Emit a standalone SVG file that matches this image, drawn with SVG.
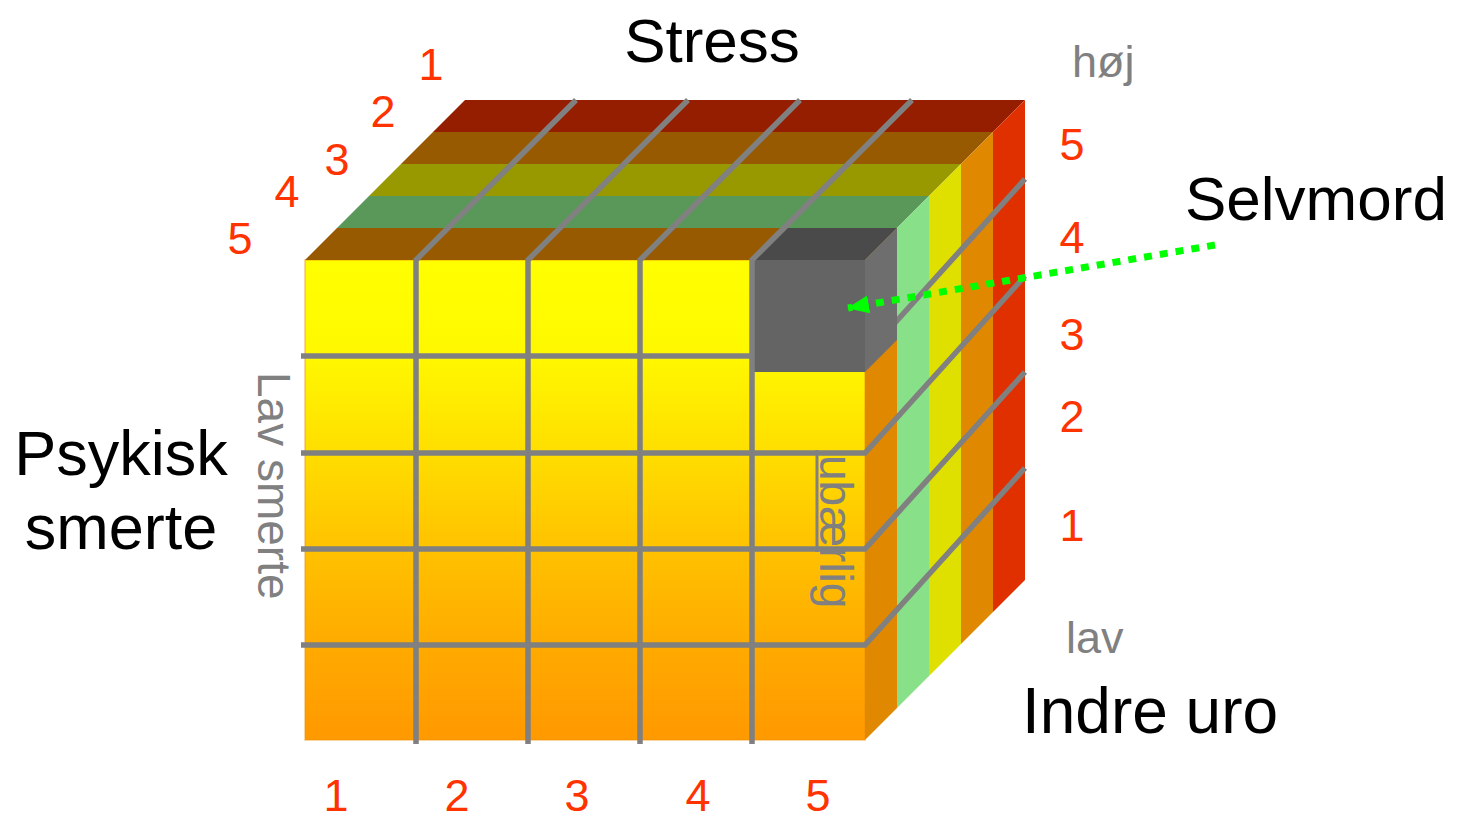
<svg xmlns="http://www.w3.org/2000/svg" width="1457" height="821" viewBox="0 0 1457 821">
  <defs>
    <linearGradient id="frontGrad" gradientUnits="userSpaceOnUse" x1="0" y1="260" x2="0" y2="740">
      <stop offset="0" stop-color="#ffff00"/>
      <stop offset="0.2" stop-color="#fff800"/>
      <stop offset="0.4" stop-color="#ffde00"/>
      <stop offset="0.6" stop-color="#ffc200"/>
      <stop offset="0.8" stop-color="#ffab00"/>
      <stop offset="1" stop-color="#ff9900"/>
    </linearGradient>
    <marker id="greenHead" viewBox="0 0 22 18" refX="21" refY="9" markerWidth="22" markerHeight="18" markerUnits="userSpaceOnUse" orient="auto">
      <path d="M0,0 L22,9 L0,18 z" fill="#00ff00"/>
    </marker>
    <style>
      .grid { fill: none; stroke: #808080; stroke-width: 5.5; stroke-linejoin: miter; }
      .title { font-family: "Liberation Sans", Arial, sans-serif; font-size: 62px; fill: #000000; }
      .num { font-family: "Liberation Sans", Arial, sans-serif; font-size: 45px; fill: #ff3300; text-anchor: middle; }
      .gray { font-family: "Liberation Sans", Arial, sans-serif; font-size: 45px; fill: #808080; }
      .rot { font-family: "Liberation Sans", Arial, sans-serif; font-size: 46px; fill: #808080; }
    </style>
  </defs>

  <rect width="1457" height="821" fill="#ffffff"/>

  <!-- Cube faces -->
  <g id="front-face">
    <rect x="305" y="260" width="560" height="480" fill="url(#frontGrad)" stroke="#f09000" stroke-opacity="0.5" stroke-width="1.5"/>
  </g>

  <g id="top-face">
    <polygon points="465,100 1025,100 993,132 433,132" fill="#961e00"/>
    <polygon points="433,132 993,132 961,164 401,164" fill="#975a00"/>
    <polygon points="401,164 961,164 929,196 369,196" fill="#989800"/>
    <polygon points="369,196 929,196 897,228 337,228" fill="#5a985a"/>
    <polygon points="337,228 897,228 865,260 305,260" fill="#975a00"/>
  </g>

  <g id="right-face">
    <polygon points="865,260 897,228 897,708 865,740" fill="#e08800"/>
    <polygon points="897,228 929,196 929,676 897,708" fill="#88e088"/>
    <polygon points="929,196 961,164 961,644 929,676" fill="#e0e000"/>
    <polygon points="961,164 993,132 993,612 961,644" fill="#e08800"/>
    <polygon points="993,132 1025,100 1025,580 993,612" fill="#e03000"/>
  </g>

  <!-- grid line hidden partly by the gray cube -->
  <g id="grid-back">
    <polyline class="grid" points="865,356 1025,179"/>
  </g>

  <g id="selvmord-cube">
    <rect x="752" y="260" width="113" height="112" fill="#646464"/>
    <polygon points="752,260 784,228 897,228 865,260" fill="#4a4a4a"/>
    <polygon points="865,260 897,228 897,340 865,372" fill="#6e6e6e"/>
  </g>

  <g id="grid">
    <polyline class="grid" points="301,356 752,356"/>
    <polyline class="grid" points="301,453 865,453 1025,276"/>
    <polyline class="grid" points="301,549 865,549 1025,372"/>
    <polyline class="grid" points="301,645 865,645 1025,468"/>
    <polyline class="grid" points="416,744 416,260 576,100"/>
    <polyline class="grid" points="528,744 528,260 688,100"/>
    <polyline class="grid" points="640,744 640,260 800,100"/>
    <polyline class="grid" points="752,744 752,260 912,100"/>
    <line x1="817" y1="450" x2="817" y2="552" stroke="#808080" stroke-width="3"/>
  </g>

  <!-- Axis labels -->
  <g id="labels">
    <text class="title" x="712" y="62" text-anchor="middle">Stress</text>
    <text class="title" x="1185" y="220">Selvmord</text>
    <text class="title" x="121" y="475" text-anchor="middle" style="font-size:63px">Psykisk</text>
    <text class="title" x="121" y="549" text-anchor="middle" style="font-size:63px">smerte</text>
    <text class="title" x="1150" y="733" text-anchor="middle" style="font-size:64px">Indre uro</text>
    <text class="gray" x="1072" y="77">høj</text>
    <text class="gray" x="1066" y="653">lav</text>
    <text class="rot" transform="translate(258,372) rotate(90)">Lav smerte</text>
    <text class="rot" transform="translate(820,455) rotate(90)">ubærlig</text>
  </g>

  <g id="stress-numbers">
    <text class="num" x="431" y="80">1</text>
    <text class="num" x="383" y="127">2</text>
    <text class="num" x="337" y="175">3</text>
    <text class="num" x="287" y="207">4</text>
    <text class="num" x="240" y="254">5</text>
  </g>
  <g id="pain-numbers">
    <text class="num" x="336" y="811">1</text>
    <text class="num" x="457" y="811">2</text>
    <text class="num" x="577" y="811">3</text>
    <text class="num" x="698" y="811">4</text>
    <text class="num" x="818" y="811">5</text>
  </g>
  <g id="uro-numbers">
    <text class="num" x="1072" y="160">5</text>
    <text class="num" x="1072" y="253">4</text>
    <text class="num" x="1072" y="350">3</text>
    <text class="num" x="1072" y="432">2</text>
    <text class="num" x="1072" y="541">1</text>
  </g>

  <g id="connectors">
    <path d="M1215,245 L848,308" fill="none" stroke="#00ff00" stroke-width="7" stroke-dasharray="8 8" marker-end="url(#greenHead)"/>
  </g>
</svg>
